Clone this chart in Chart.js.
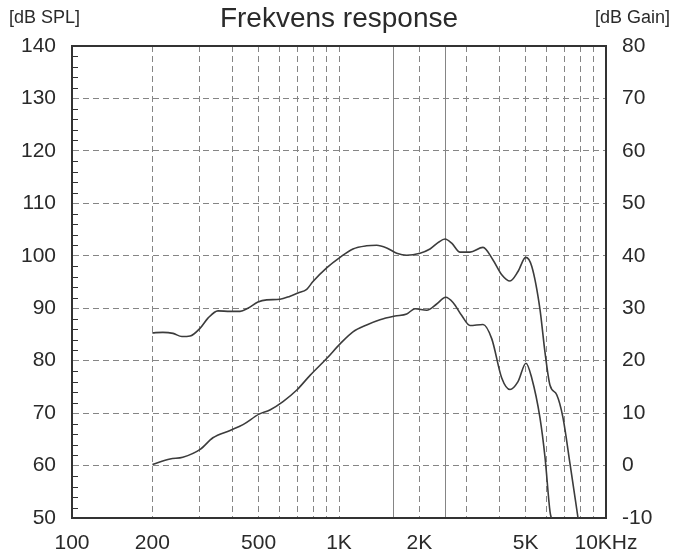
<!DOCTYPE html>
<html>
<head>
<meta charset="utf-8">
<script src="https://cdn.jsdelivr.net/npm/chart.js@4"></script>
<style>
    body { margin: 0; background: #fff; }
</style>
</head>
<body>
<canvas id="responseChart" width="678" height="559"></canvas>
<script>
// Övre kurvan, läses mot vänster axel (dB SPL)
const splFreqs = [200, 219, 239, 258, 277, 302, 323, 352, 391, 426, 456, 497, 536, 601, 656, 702, 757, 799, 899, 1009, 1128, 1269, 1384, 1509, 1645, 1793, 2011, 2192, 2348, 2495, 2643, 2840, 3095, 3462, 3774, 4069, 4370, 4682, 5003, 5270, 5659, 5909, 6170, 6538, 6902, 7333, 7857]
const splValues = [85.3, 85.4, 85.2, 84.6, 84.7, 86.2, 88.1, 89.5, 89.4, 89.4, 90.0, 91.2, 91.6, 91.7, 92.3, 92.9, 93.6, 95.1, 97.7, 99.7, 101.3, 101.9, 102.0, 101.5, 100.5, 100.1, 100.5, 101.3, 102.5, 103.2, 102.4, 100.7, 100.7, 101.6, 99.2, 96.4, 95.2, 97.0, 99.7, 98.0, 89.8, 81.6, 75.3, 73.5, 69.1, 60.3, 50]

// Undre kurvan, läses mot höger axel (dB Gain)
const gainFreqs = [200, 233, 260, 302, 337, 391, 437, 502, 551, 617, 695, 779, 899, 1009, 1128, 1269, 1424, 1621, 1793, 1926, 2131, 2322, 2510, 2673, 2882, 3095, 3462, 3732, 4069, 4370, 4682, 5015, 5270, 5659, 5909, 6170, 6240]
const gainValues = [0.2, 1.25, 1.6, 3.1, 5.3, 6.7, 7.8, 9.8, 10.6, 12.2, 14.4, 17.2, 20.4, 23.2, 25.5, 26.8, 27.8, 28.5, 28.9, 29.9, 29.6, 30.8, 32.1, 31.1, 28.6, 26.7, 26.9, 24.2, 16.7, 14.5, 16.0, 19.5, 16.7, 9.1, 1.6, -8.8, -10]

// Gridlinjer och etiketter på x-axeln
const xGridFreqs = [100, 200, 300, 400, 500, 600, 700, 800, 900, 1000, 1600, 2000, 2500, 3000, 4000, 5000, 6000, 7000, 8000, 9000, 10000]
const xSolidFreqs = [1600, 2500]
const xLabelFreqs = [100, 200, 500, 1000, 2000, 5000, 10000]
const xLabelTexts = ['100', '200', '500', '1K', '2K', '5K', '10KHz']

const chartTitle = 'Frekvens response'
const leftUnit = '[dB SPL]'
const rightUnit = '[dB Gain]'

const fontFamily = '"Liberation Sans", Arial, sans-serif'
const gridGray = '#858585'
const frameColor = '#333'
const curveColor = '#3c3c3c'

// Små streck på vänster ram, rubrik och enheter
const frameExtras = {
    id: 'frameExtras',
    afterDraw(chart) {
        const ctx = chart.ctx
        const area = chart.chartArea
        const yScale = chart.scales.y
        ctx.save()
        ctx.strokeStyle = frameColor
        ctx.lineWidth = 1
        for (let v = yScale.min; v <= yScale.max; v += 2) {
            if (v % 10 === 0) continue
            const py = Math.round(yScale.getPixelForValue(v)) + 0.5
            ctx.beginPath()
            ctx.moveTo(area.left, py)
            ctx.lineTo(area.left + 6, py)
            ctx.stroke()
        }
        ctx.fillStyle = '#2a2a2a'
        ctx.textBaseline = 'alphabetic'
        ctx.font = '28px ' + fontFamily
        ctx.textAlign = 'center'
        ctx.fillText(chartTitle, (area.left + area.right) / 2, 27)
        ctx.font = '18px ' + fontFamily
        ctx.textAlign = 'left'
        ctx.fillText(leftUnit, 9, 23)
        ctx.textAlign = 'right'
        ctx.fillText(rightUnit, 670, 23)
        ctx.restore()
    }
}

function toPoints(freqs, values) {
    return freqs.map((f, i) => ({ x: f, y: values[i] }))
}

const ctxEl = document.getElementById('responseChart')
new Chart(ctxEl, {
    type: 'line',
    data: {
        datasets: [
            {
                label: 'dB SPL',
                data: toPoints(splFreqs, splValues),
                yAxisID: 'y',
                borderColor: curveColor,
                borderWidth: 1.6,
                pointRadius: 0,
                cubicInterpolationMode: 'monotone',
                fill: false
            },
            {
                label: 'dB Gain',
                data: toPoints(gainFreqs, gainValues),
                yAxisID: 'y2',
                borderColor: curveColor,
                borderWidth: 1.6,
                pointRadius: 0,
                cubicInterpolationMode: 'monotone',
                fill: false
            }
        ]
    },
    options: {
        responsive: false,
        animation: false,
        layout: {
            padding: { top: 46, left: 0, right: 0, bottom: 0 }
        },
        plugins: {
            legend: { display: false },
            tooltip: { enabled: false },
            title: { display: false }
        },
        scales: {
            x: {
                type: 'logarithmic',
                min: 100,
                max: 10000,
                afterBuildTicks: (scale) => {
                    scale.ticks = xGridFreqs.map((v) => ({ value: v }))
                },
                afterFit: (scale) => {
                    scale.height = 41
                },
                ticks: {
                    autoSkip: false,
                    maxRotation: 0,
                    padding: 13,
                    color: '#2a2a2a',
                    font: { family: fontFamily, size: 21 },
                    callback: (value) => {
                        const i = xLabelFreqs.indexOf(value)
                        return i >= 0 ? xLabelTexts[i] : ''
                    }
                },
                grid: {
                    drawTicks: false,
                    lineWidth: 1,
                    color: (c) => {
                        const v = c.tick.value
                        if (v === 100 || v === 10000) return 'transparent'
                        return gridGray
                    }
                },
                border: {
                    color: frameColor,
                    width: 2,
                    dash: (c) => (c.tick && !xSolidFreqs.includes(c.tick.value) ? [6, 4] : [])
                }
            },
            y: {
                position: 'left',
                min: 50,
                max: 140,
                afterFit: (scale) => {
                    scale.width = 72
                },
                ticks: {
                    stepSize: 10,
                    padding: 16,
                    color: '#2a2a2a',
                    font: { family: fontFamily, size: 21 }
                },
                grid: {
                    drawTicks: false,
                    color: (c) => {
                        const v = c.tick.value
                        if (v === 140) return frameColor
                        if (v === 50) return 'transparent'
                        return gridGray
                    },
                    lineWidth: (c) => (c.tick.value === 140 ? 2 : 1)
                },
                border: {
                    color: frameColor,
                    width: 2,
                    dash: (c) => (c.tick && c.tick.value !== 140 ? [6, 4] : [])
                }
            },
            y2: {
                position: 'right',
                min: -10,
                max: 80,
                afterFit: (scale) => {
                    scale.width = 72
                },
                ticks: {
                    stepSize: 10,
                    padding: 16,
                    color: '#2a2a2a',
                    font: { family: fontFamily, size: 21 }
                },
                grid: {
                    display: false,
                    drawTicks: false
                },
                border: {
                    color: frameColor,
                    width: 2
                }
            }
        }
    },
    plugins: [frameExtras]
})
</script>
</body>
</html>
